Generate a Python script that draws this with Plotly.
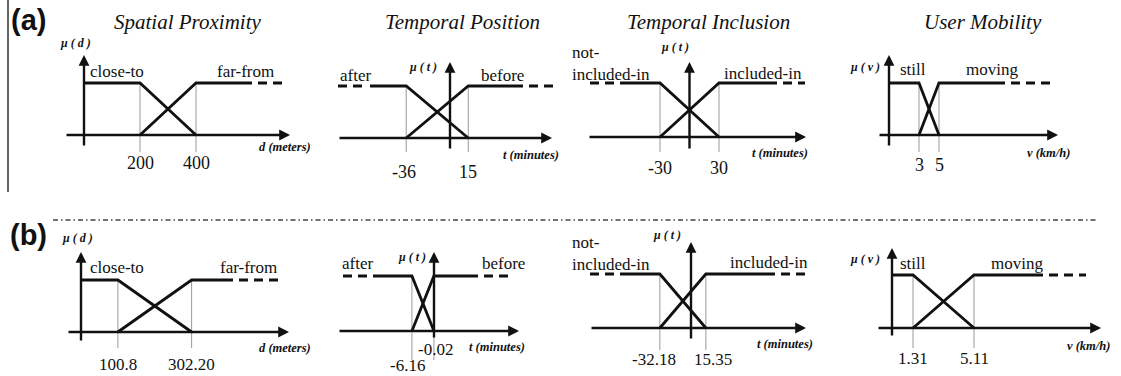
import plotly.graph_objects as go

W, H = 1121, 376

# ---- chart content -------------------------------------------------------
titles = ["Spatial Proximity", "Temporal Position", "Temporal Inclusion", "User Mobility"]
mu_labels = ["μ ( d )", "μ ( t )", "μ ( t )", "μ ( v )"]
var_titles = ["d (meters)", "t (minutes)", "t (minutes)", "v (km/h)"]
low_sets = ["close-to", "after", "not-<br>included-in", "still"]
high_sets = ["far-from", "before", "included-in", "moving"]

# (a) breakpoints of the crossing membership functions
a_lo = [200, -36, -30, 3]
a_hi = [400, 15, 30, 5]
a_ticks = [["200", "400"], ["-36", "15"], ["-30", "30"], ["3", "5"]]

# (b) learned breakpoints
b_lo = [100.8, -6.16, -32.18, 1.31]
b_hi = [302.20, -0.02, 15.35, 5.11]
b_ticks = [["100.8", "302.20"], ["-6.16", "-0.02"], ["-32.18", "15.35"], ["1.31", "5.11"]]

# ---- geometry of each small diagram (pixels) ------------------------------
geo = [
    dict(x0=84, ppu=0.28, base=135, top=83, hx=(65, 290), vy=(147, 55), left=(84, 84), right=(252, 282),
         guide=152, ty=(163, 163), tdx=(0, 0), mu=(75, 43), low=(88, 72, "left"), high=(215, 72, "left"),
         vt=(285, 147), title=(187, 22)),
    dict(x0=450, ppu=1.216, base=138, top=86, hx=(338, 552), vy=(150, 62), left=(338, 370), right=(523, 555),
         guide=152, ty=(172, 172), tdx=(-2, 0), mu=(423, 67), low=(355, 75, "center"), high=(502, 75, "center"),
         vt=(531, 155), title=(462, 22)),
    dict(x0=689.5, ppu=0.983, base=137, top=83, hx=(588, 806), vy=(150, 62), left=(590, 620), right=(777, 805),
         guide=152, ty=(168, 168), tdx=(0, 0), mu=(675, 47), low=(570, 63, "left"), high=(722, 74, "left"),
         vt=(780, 153), title=(708, 22)),
    dict(x0=889, ppu=10, base=135, top=83, hx=(878, 1058), vy=(147, 55), left=(889, 889), right=(1005, 1050),
         guide=152, ty=(165, 165), tdx=(0, 0), mu=(865, 67), low=(913, 69, "center"), high=(992, 69, "center"),
         vt=(1048, 153), title=(983, 22)),
    dict(x0=81, ppu=0.366, base=332, top=280, hx=(67, 289), vy=(342, 252), left=(81, 81), right=(233, 282),
         guide=348, ty=(364, 364), tdx=(0, 0), mu=(77, 238), low=(88, 267, "left"), high=(218, 267, "left"),
         vt=(285, 348), title=None),
    dict(x0=434, ppu=3.583, base=331, top=276, hx=(338, 519), vy=(339, 252), left=(343, 373), right=(478, 508),
         guide=360, ty=(365, 349), tdx=(-4, 2), mu=(412, 257), low=(357, 263, "center"), high=(503, 263, "center"),
         vt=(497, 347), title=None),
    dict(x0=691, ppu=0.968, base=328, top=274, hx=(590, 806), vy=(340, 242), left=(590, 620), right=(775, 805),
         guide=350, ty=(359, 359), tdx=(-6, 7), mu=(667, 235), low=(570, 253, "left"), high=(728, 262, "left"),
         vt=(785, 344), title=None),
    dict(x0=892, ppu=16.05, base=328, top=275, hx=(877, 1101), vy=(337, 248), left=(892, 892), right=(1043, 1086),
         guide=348, ty=(358, 358), tdx=(0, 0), mu=(865, 259), low=(913, 263, "center"), high=(1017, 263, "center"),
         vt=(1088, 346), title=None),
]

SERIF = "Liberation Serif"
INK = "#111"
fig = go.Figure()
annotations = []
layout_axes = {}


def px(x):
    return x / W


def py(y):
    return 1 - y / H


def label(x, y, text, size, family=SERIF, anchor="center", **kw):
    return dict(x=x, y=y, text=text, showarrow=False, xanchor=anchor, yanchor="middle", align="left",
                font=dict(family=family, size=size, color=INK), **kw)


panels = []
for row, (los, his, ticks) in enumerate([(a_lo, a_hi, a_ticks), (b_lo, b_hi, b_ticks)]):
    for j in range(4):
        panels.append((row, j, los[j], his[j], ticks[j]))

for k, (row, j, lo, hi, tks) in enumerate(panels):
    g = geo[k]
    n = k + 1
    xr, yr = f"x{n}", f"y{n}"

    def xv(p, g=g):
        return (p - g["x0"]) / g["ppu"]

    def yv(p, g=g):
        return (g["base"] - p) / (g["base"] - g["top"])

    layout_axes[f"xaxis{n}"] = dict(domain=[0, 1], range=[xv(0), xv(W)], visible=False, anchor=yr, fixedrange=True)
    layout_axes[f"yaxis{n}"] = dict(domain=[0, 1], range=[yv(H), yv(0)], visible=False, anchor=xr, fixedrange=True)

    line = dict(color=INK, width=2.8)
    dash = dict(color=INK, width=2.8, dash="9px,6px")
    common = dict(xaxis=xr, yaxis=yr, mode="lines", hoverinfo="skip", showlegend=False)

    # thin guides at breakpoints
    for v in (lo, hi):
        fig.add_trace(go.Scatter(x=[v, v], y=[1, yv(g["guide"])], line=dict(color="#999", width=1), **common))

    # low set: (dashed) plateau -> falling edge
    ds, ss = g["left"]
    if ds != ss:
        fig.add_trace(go.Scatter(x=[xv(ds), xv(ss - 2)], y=[1, 1], line=dash, **common))
    fig.add_trace(go.Scatter(x=[xv(ss), lo, hi], y=[1, 1, 0], line=line, **common))
    # high set: rising edge -> plateau -> dashed continuation
    se, de = g["right"]
    fig.add_trace(go.Scatter(x=[lo, hi, xv(se)], y=[0, 1, 1], line=line, **common))
    fig.add_trace(go.Scatter(x=[xv(se + 6), xv(de)], y=[1, 1], line=dash, **common))

    # axes with arrows
    arrow = dict(xref=xr, yref=yr, axref=xr, ayref=yr, text="", showarrow=True, arrowhead=2,
                 arrowsize=0.9, arrowwidth=2.4, arrowcolor=INK, standoff=0)
    annotations.append(dict(x=xv(g["hx"][1]), y=0, ax=xv(g["hx"][0]), ay=0, **arrow))
    annotations.append(dict(x=0, y=yv(g["vy"][1]), ax=0, ay=yv(g["vy"][0]), **arrow))

    # tick labels
    for v, t, ty, dx in zip((lo, hi), tks, g["ty"], g["tdx"]):
        annotations.append(label(v, py(ty), t, 18 if row == 0 else 17, xref=xr, yref="paper", xshift=dx))

    # set labels
    for lab, (lx, ly, anc) in ((low_sets[j], g["low"]), (high_sets[j], g["high"])):
        annotations.append(label(px(lx), py(ly), lab, 17, anchor=anc, xref="paper", yref="paper"))

    annotations.append(label(px(g["mu"][0]), py(g["mu"][1]), f"<b><i>{mu_labels[j]}</i></b>", 12,
                             xref="paper", yref="paper"))
    annotations.append(label(px(g["vt"][0]), py(g["vt"][1]), f"<b><i>{var_titles[j]}</i></b>", 12.5,
                             xref="paper", yref="paper"))
    if g["title"]:
        annotations.append(label(px(g["title"][0]), py(g["title"][1]), f"<i>{titles[j]}</i>", 21,
                                 xref="paper", yref="paper"))

for lab, yy in (("(a)", 20), ("(b)", 235)):
    annotations.append(label(px(28), py(yy), f"<b>{lab}</b>", 29, family="Liberation Sans",
                             xref="paper", yref="paper"))

shapes = [
    dict(type="line", xref="paper", yref="paper", x0=px(8), x1=px(8), y0=py(0), y1=py(192),
         line=dict(color="#333", width=1.5)),
    dict(type="line", xref="paper", yref="paper", x0=px(53), x1=px(1098), y0=py(220), y1=py(220),
         line=dict(color="#444", width=1.5, dash="5px,3px,1.5px,3px")),
]

fig.update_layout(
    width=W, height=H, margin=dict(l=0, r=0, t=0, b=0),
    paper_bgcolor="white", plot_bgcolor="rgba(0,0,0,0)",
    annotations=annotations, shapes=shapes, **layout_axes,
)

# the page's default body margin would push the drawing 8px down and right
fig.write_html("out.html", config=dict(displayModeBar=False),
               post_script="document.body.style.margin='0';")
